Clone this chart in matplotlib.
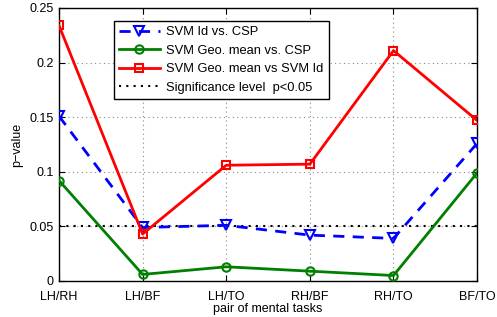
import matplotlib
matplotlib.use("Agg")
import matplotlib.pyplot as plt
import numpy as np

plt.rcParams['font.family'] = ['Liberation Sans', 'DejaVu Sans']

categories = ["LH/RH", "LH/BF", "LH/TO", "RH/BF", "RH/TO", "BF/TO"]
svm_id_vs_csp = [0.151, 0.049, 0.051, 0.042, 0.039, 0.126]
geo_vs_csp = [0.092, 0.006, 0.013, 0.009, 0.005, 0.099]
geo_vs_id = [0.234, 0.043, 0.106, 0.107, 0.211, 0.147]
significance = 0.05

fig = plt.figure(figsize=(4.97, 3.17), dpi=100)
ax = fig.add_axes([0.1187, 0.1136, 0.8413, 0.8612])
x = np.arange(len(categories))

ax.plot(x, svm_id_vs_csp, '--v', color='blue', lw=2, ms=7, mfc='none', mew=1.5,
        dashes=(4, 3), label='SVM Id vs. CSP', zorder=3)
ax.plot(x, geo_vs_csp, '-o', color='green', lw=2, ms=6, mfc='none', mew=1.5,
        label='SVM Geo. mean vs. CSP', zorder=3)
ax.plot(x, geo_vs_id, '-s', color='red', lw=2, ms=6, mfc='none', mew=1.5,
        label='SVM Geo. mean vs SVM Id', zorder=3)
ax.axhline(significance, color='black', lw=1.5, ls=(0, (1, 2.5)),
           label='Significance level  p<0.05', zorder=2)

ax.set_xlim(0, len(categories) - 1)
ax.set_ylim(0, 0.25)
ax.set_xticks(x)
ax.set_xticklabels(categories)
ax.set_yticks([0, 0.05, 0.1, 0.15, 0.2, 0.25])
ax.set_yticklabels(['0', '0.05', '0.1', '0.15', '0.2', '0.25'])
ax.tick_params(direction='in', top=True, right=True, labelsize=9, length=4)
ax.tick_params(axis='x', pad=7)
ax.tick_params(axis='y', pad=4)
ax.grid(True, color='#888888', ls=(0, (1, 3)), lw=0.8)
for s in ax.spines.values():
    s.set_linewidth(1.0)
ax.set_xlabel('pair of mental tasks', fontsize=9, labelpad=0)
ax.set_ylabel('p\u2212value', fontsize=9, labelpad=4)

leg = ax.legend(loc='upper left', bbox_to_anchor=(0.115, 0.975), fontsize=9.3,
                frameon=True, fancybox=False, edgecolor='black', framealpha=1,
                handlelength=3.2, borderpad=0.4, labelspacing=0.5, handletextpad=0.5)
leg.get_frame().set_linewidth(1.0)

fig.savefig('out.png', dpi=100)
